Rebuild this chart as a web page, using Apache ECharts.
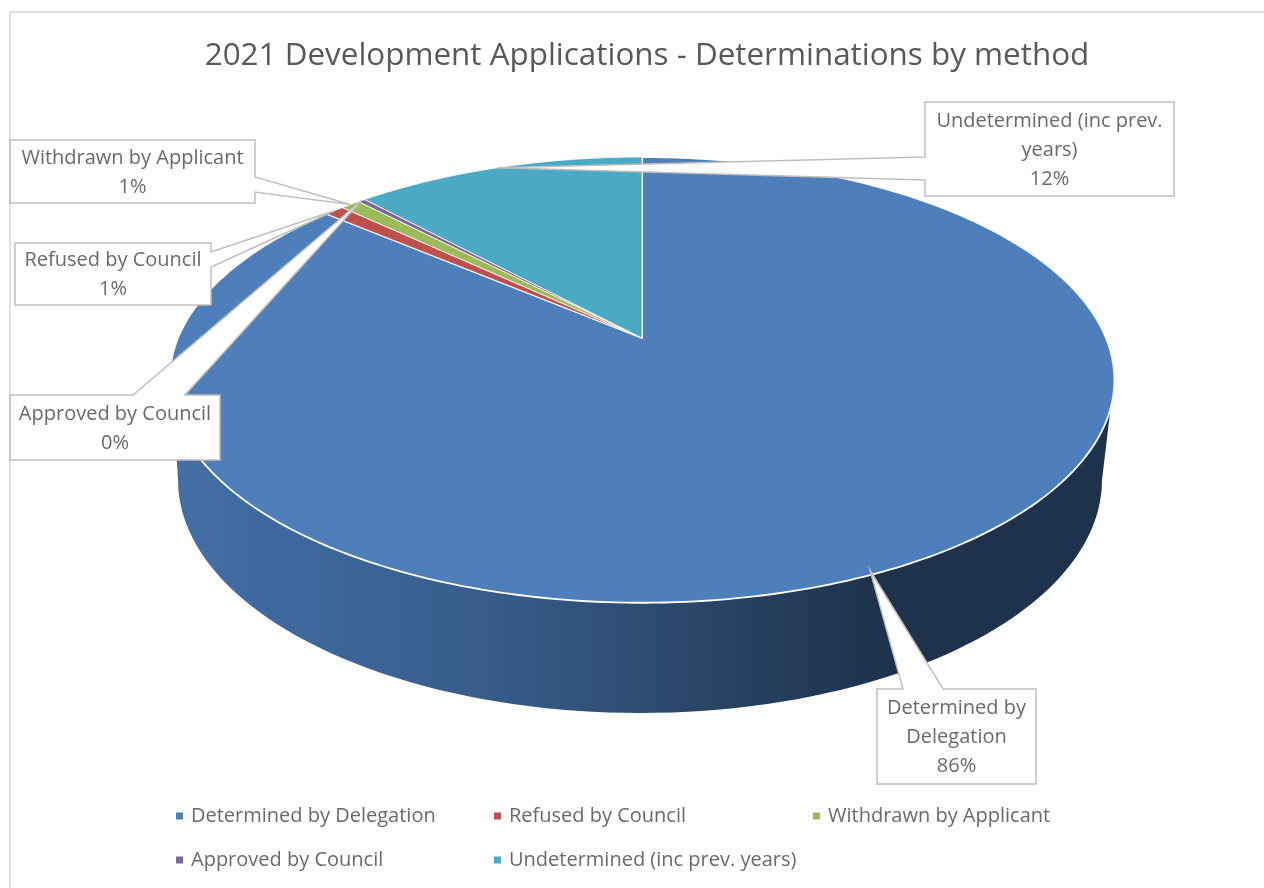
<!DOCTYPE html>
<html>
<head>
<meta charset="utf-8">
<style>html,body{margin:0;padding:0;background:#fff}#chart{width:1264px;height:888px}</style>
<script src="https://cdn.jsdelivr.net/npm/echarts@6/dist/echarts.min.js"></script>
</head>
<body>
<div id="chart"></div>
<script>
// Determinations by method, share of applications (%), clockwise from 12 o'clock
const categories = ['Determined by Delegation', 'Refused by Council', 'Withdrawn by Applicant', 'Approved by Council', 'Undetermined (inc prev. years)'];
const shares = [86.2, 0.8, 0.8, 0.3, 11.9];
const colors = ['#4e7fbb', '#c0504d', '#9bbb59', '#8064a2', '#4aa9c4'];
const chartTitle = '2021 Development Applications - Determinations by method';

// Perspective disc: circle centre lands on (cx, cy), far rim is foreshortened
const disc = { cx: 642, cy: 338, a: 464, b: 215, k: 0.188 };
// Lower rim of the extruded wall
const base = { cx: 640, cy: 480, rx: 462, ry: 233 };

const total = shares.reduce((s, v) => s + v, 0);
const startFrac = shares.map((_, i) => shares.slice(0, i).reduce((s, v) => s + v, 0) / total);

function project(frac) {
  const t = frac * 2 * Math.PI, u = Math.sin(t), v = Math.cos(t), w = 1 + disc.k * v;
  return [disc.cx + disc.a * u / w, disc.cy - disc.b * v / w];
}
function rim(from, to) {
  const n = Math.max(2, Math.ceil((to - from) * 360));
  const pts = [];
  for (let i = 0; i <= n; i++) pts.push(project(from + (to - from) * i / n));
  return pts;
}

// Callout boxes: [left, top, right, bottom], the two wedge roots on the box edge,
// and a small nudge of the leader tip away from the rim
const callouts = [
  { box: [877, 689, 1036, 784], roots: [[903, 689], [943, 689]], nudge: [-7, -3], lines: ['Determined by', 'Delegation'] },
  { box: [15, 243, 211, 305], roots: [[211, 252], [211, 267]], nudge: [0, 0], lines: ['Refused by Council'] },
  { box: [10, 140, 255, 203], roots: [[255, 177], [255, 192]], nudge: [0, 0], lines: ['Withdrawn by Applicant'] },
  { box: [10, 395, 220, 460], roots: [[133, 395], [185, 395]], nudge: [0, 0], lines: ['Approved by Council'] },
  { box: [925, 102, 1174, 196], roots: [[925, 157], [925, 180]], nudge: [0, 0], lines: ['Undetermined (inc prev.', 'years)'] }
];

function sliceSeries(i) {
  return {
    type: 'custom', name: categories[i], coordinateSystem: 'none', z: 2,
    itemStyle: { color: colors[i] },
    data: [[shares[i]]],
    renderItem: function (params, api) {
      const from = startFrac[i], to = from + api.value(0) / total;
      return {
        type: 'polygon',
        shape: { points: [[disc.cx, disc.cy]].concat(rim(from, to)) },
        style: { fill: colors[i], stroke: '#ffffff', lineWidth: i === 0 ? 1.8 : 0.8, lineJoin: 'round' }
      };
    }
  };
}

// Side wall below the front of the rim; only the largest slice faces the viewer
const wallSeries = {
  type: 'custom', coordinateSystem: 'none', z: 1, silent: true,
  data: [[shares[0]]],
  renderItem: function () {
    const top = rim(0.30, 0.70);
    const bottom = [];
    for (let d = 180; d >= 0; d -= 2) {
      const t = d * Math.PI / 180;
      bottom.push([base.cx + base.rx * Math.cos(t), base.cy + base.ry * Math.sin(t)]);
    }
    return {
      type: 'polygon',
      shape: { points: top.concat(bottom) },
      style: {
        fill: new echarts.graphic.LinearGradient(178, 0, 880, 0, [
          { offset: 0, color: '#436fa6' },
          { offset: 0.45, color: '#375c8a' },
          { offset: 1, color: '#1e324b' }
        ], true)
      }
    };
  }
};

// Data labels with pointed leaders aimed at the mid-angle of each slice
const labelSeries = {
  type: 'custom', coordinateSystem: 'none', z: 5, silent: true,
  data: shares.map(v => [v]),
  renderItem: function (params, api) {
    const i = params.dataIndex, c = callouts[i], b = c.box;
    const pct = Math.round(api.value(0) / total * 100) + '%';
    const mid = project(startFrac[i] + api.value(0) / total / 2);
    const tip = [mid[0] + c.nudge[0], mid[1] + c.nudge[1]];
    const [r0, r1] = c.roots;
    const ring = [[b[0], b[1]], [b[2], b[1]], [b[2], b[3]], [b[0], b[3]]];
    let outline;
    if (r0[1] === r1[1]) {
      // wedge leaves the top edge
      outline = [ring[0], r0, tip, r1, ring[1], ring[2], ring[3]];
    } else if (r0[0] === b[2]) {
      // wedge leaves the right edge
      outline = [ring[0], ring[1], r0, tip, r1, ring[2], ring[3]];
    } else {
      // wedge leaves the left edge
      outline = [ring[0], ring[1], ring[2], ring[3], r1, tip, r0];
    }
    const text = c.lines.concat(pct).join('\n');
    return {
      type: 'group',
      children: [
        { type: 'polygon', shape: { points: outline }, style: { fill: '#ffffff', stroke: '#bfbfbf', lineWidth: 1.5 } },
        {
          type: 'text',
          style: {
            x: (b[0] + b[2]) / 2, y: (b[1] + b[3]) / 2 + 1, text: text,
            align: 'center', verticalAlign: 'middle', fill: '#6a6a6a',
            font: '20px "Open Sans", sans-serif', lineHeight: 29
          }
        }
      ]
    };
  }
};

const legendSlots = [[171, 801], [489, 801], [808, 801], [171, 845], [489, 845]];

const chart = echarts.init(document.getElementById('chart'), null, { renderer: 'canvas' });
chart.setOption({
  animation: false,
  backgroundColor: '#ffffff',
  title: {
    text: chartTitle, left: 642, top: 36, textAlign: 'center',
    textStyle: { color: '#595959', fontSize: 31.4, fontWeight: 'normal', fontFamily: '"Open Sans", sans-serif' }
  },
  legend: categories.map((name, i) => ({
    data: [name], left: legendSlots[i][0], top: legendSlots[i][1], selectedMode: false,
    icon: 'rect', itemWidth: 7, itemHeight: 7,
    textStyle: { color: '#6a6a6a', fontSize: 20, fontFamily: '"Open Sans", sans-serif', padding: [0, 0, 0, 3] }
  })),
  graphic: [{
    type: 'polyline', silent: true,
    shape: { points: [[10, 888], [10, 12], [1264, 12]] },
    style: { stroke: '#d9d9d9', lineWidth: 1.5, fill: null }
  }],
  series: [wallSeries].concat(categories.map((_, i) => sliceSeries(i)), [labelSeries])
});
</script>
</body>
</html>
